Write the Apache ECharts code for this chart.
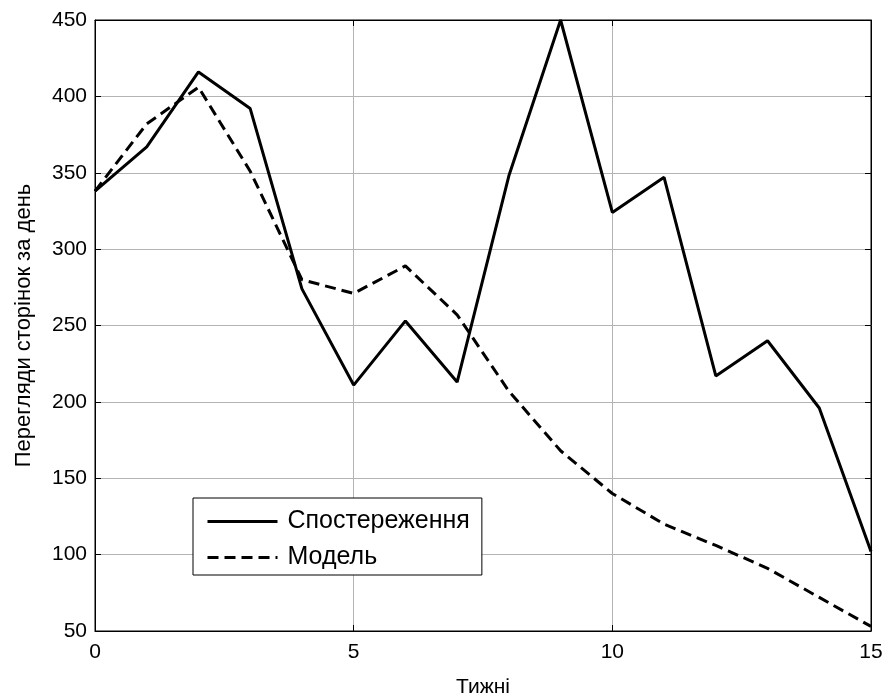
<!DOCTYPE html>
<html>
<head>
<meta charset="utf-8">
<script src="https://cdn.jsdelivr.net/npm/echarts@6/dist/echarts.min.js"></script>
<style>
  html, body { margin: 0; padding: 0; background: #fff; }
  #chart { width: 886px; height: 693px; }
</style>
</head>
<body>
<div id="chart"></div>
<script>
// weeks on x axis
const weeks = [0, 1, 2, 3, 4, 5, 6, 7, 8, 9, 10, 11, 12, 13, 14, 15];
// observed page views per day
const observed = [338, 367, 416, 392, 274, 211, 253, 213, 348, 450, 324, 347, 217, 240, 196, 102];
// model values
const model = [338, 382, 406, 351, 280, 271, 289, 257, 207, 168, 140, 120, 106, 91, 72, 53];

const seriesNames = ['Спостереження', 'Модель'];
const xName = 'Тижні';
const yName = 'Перегляди сторінок за день';

const font = 'Liberation Sans, Arial, sans-serif';

function pairs(xs, ys) {
    return xs.map(function (x, i) { return [x, ys[i]]; });
}

const chart = echarts.init(document.getElementById('chart'));

const baseAxis = {
    axisLine: { show: true, onZero: false, lineStyle: { color: '#000', width: 1 } },
    axisTick: { show: true, inside: true, length: 6, lineStyle: { color: '#000' } },
};

const option = {
    animation: false,
    backgroundColor: '#fff',
    textStyle: { fontFamily: font },
    grid: {
        left: 95, right: 15, top: 20, bottom: 62,
        containLabel: false, outerBoundsMode: 'none',
        show: true, borderColor: '#000', borderWidth: 1, backgroundColor: '#fff'
    },
    legend: {
        orient: 'vertical',
        left: 193,
        top: 498,
        data: seriesNames,
        backgroundColor: '#fff',
        borderColor: '#000',
        borderWidth: 1,
        borderRadius: 0,
        padding: [11, 12, 5, 13],
        itemWidth: 70,
        itemHeight: 14,
        itemGap: 11,
        itemStyle: { opacity: 0 },
        lineStyle: { width: 3 },
        textStyle: { fontFamily: font, fontSize: 25, color: '#000', lineHeight: 24, padding: [0, 0, 0, 5] }
    },
    xAxis: [
        Object.assign({}, baseAxis, {
            type: 'value', min: 0, max: 15, interval: 5,
            name: xName, nameLocation: 'middle', nameGap: 46,
            nameTextStyle: { fontFamily: font, fontSize: 21, color: '#000' },
            axisLabel: { fontFamily: font, fontSize: 21, color: '#000', margin: 11 },
            splitLine: { show: true, lineStyle: { color: '#b4b4b4', width: 1 } }
        }),
        Object.assign({}, baseAxis, {
            type: 'value', min: 0, max: 15, interval: 5, position: 'top',
            axisLabel: { show: false }, splitLine: { show: false }
        })
    ],
    yAxis: [
        Object.assign({}, baseAxis, {
            type: 'value', min: 50, max: 450, interval: 50,
            name: yName, nameLocation: 'middle', nameGap: 60, nameRotate: 90,
            nameTextStyle: { fontFamily: font, fontSize: 22, color: '#000' },
            axisLabel: { fontFamily: font, fontSize: 21, color: '#000', margin: 8 },
            splitLine: { show: true, lineStyle: { color: '#b4b4b4', width: 1 } }
        }),
        Object.assign({}, baseAxis, {
            type: 'value', min: 50, max: 450, interval: 50, position: 'right',
            axisLabel: { show: false }, splitLine: { show: false }
        })
    ],
    series: [
        {
            name: seriesNames[0],
            type: 'line',
            data: pairs(weeks, observed),
            symbol: 'none',
            color: '#000',
            lineStyle: { color: '#000', width: 3, type: 'solid' },
            z: 3
        },
        {
            name: seriesNames[1],
            type: 'line',
            data: pairs(weeks, model),
            symbol: 'none',
            color: '#000',
            lineStyle: { color: '#000', width: 3, type: [11, 6] },
            z: 2
        }
    ]
};

chart.setOption(option);
</script>
</body>
</html>
